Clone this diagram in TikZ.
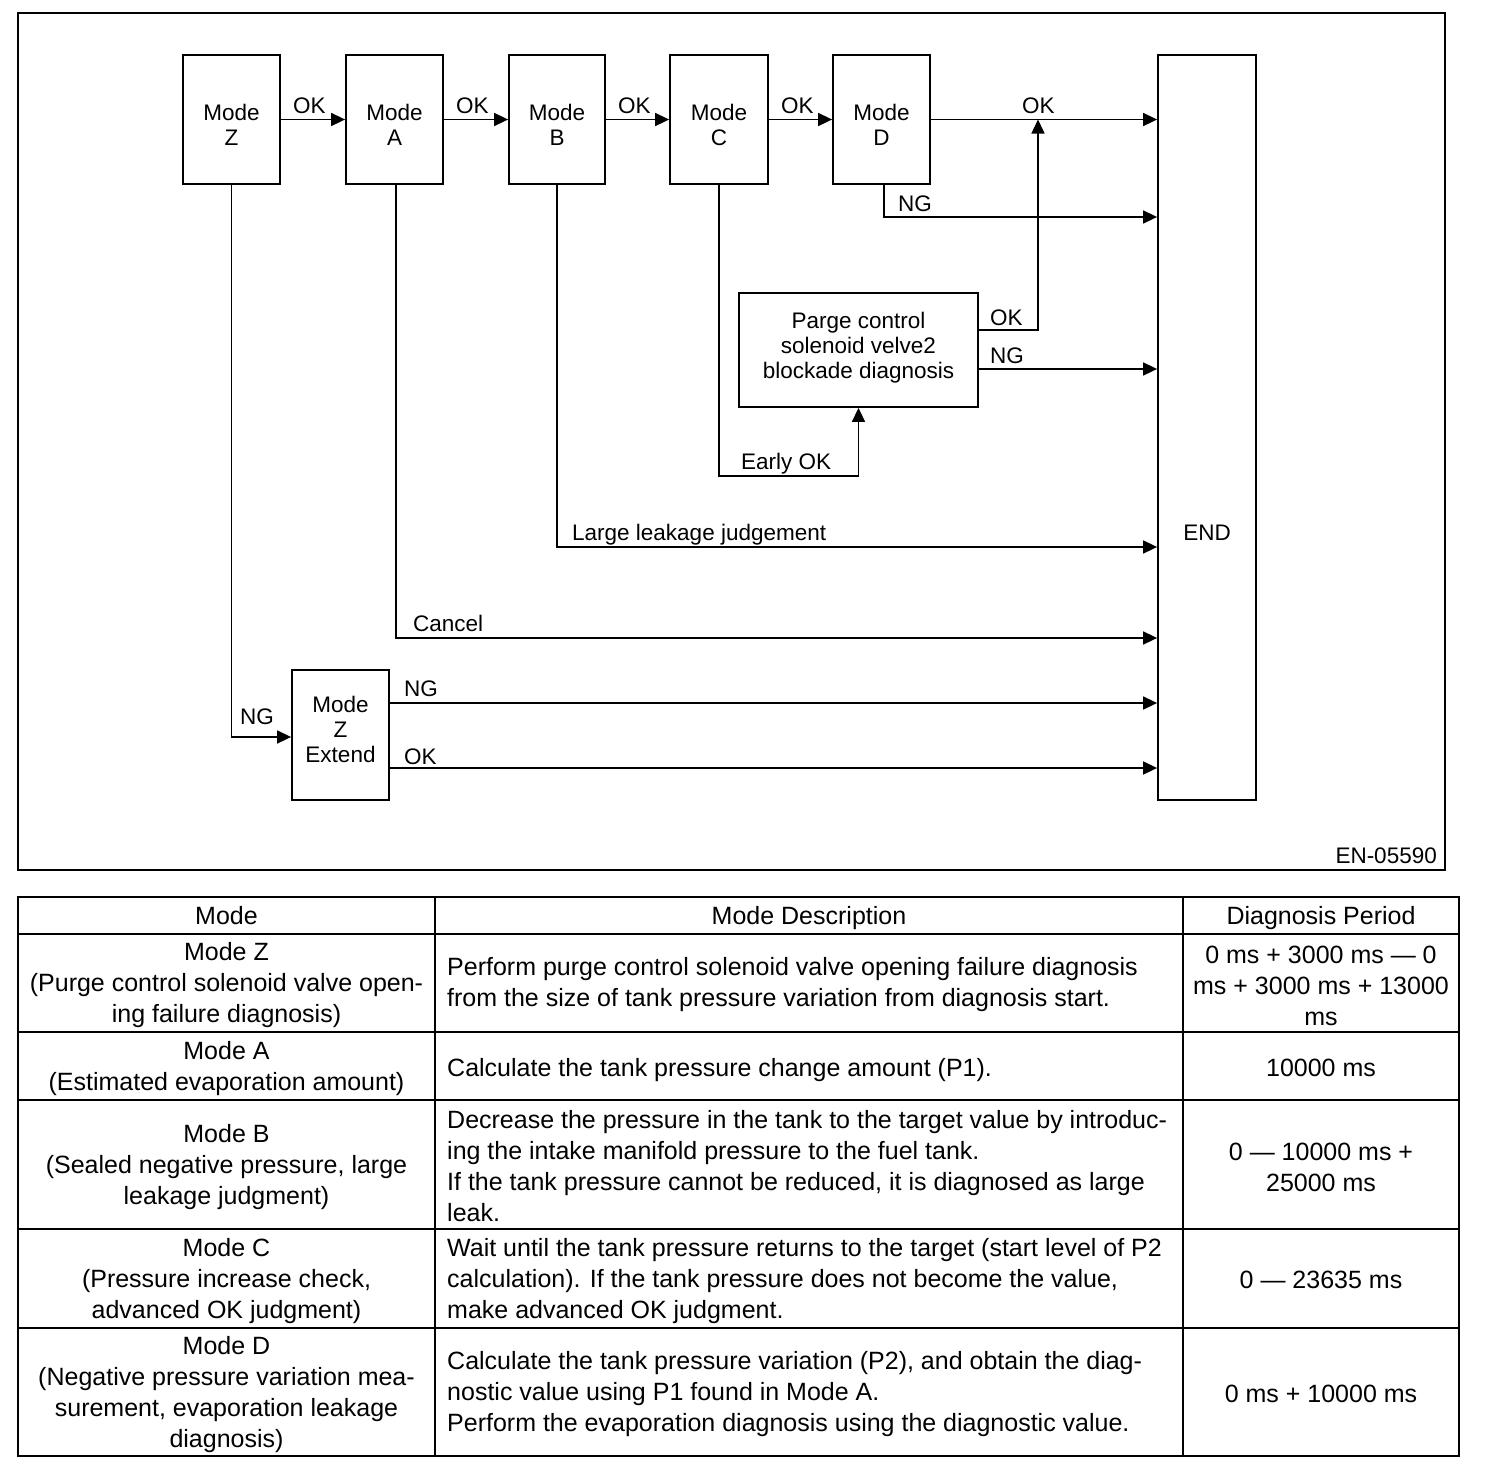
\documentclass[tikz,border=0pt]{standalone}
\usepackage{fontspec}
\setmainfont{Liberation Sans}
\usetikzlibrary{arrows.meta}
\begin{document}
\begin{tikzpicture}[x=1pt,y=-1pt,
  mbox/.style={draw,line width=1.8pt,inner sep=0pt,minimum width=97pt,minimum height=129pt},
  conn/.style={line width=1.6pt},
  arr/.style={conn,-{Triangle[length=14pt,width=13pt]}},
  btxt/.style={font=\fontsize{22.5}{25}\selectfont,align=center,inner sep=0pt},
  lbl/.style={font=\fontsize{22.5}{25}\selectfont,inner sep=0pt,anchor=base west},
  tline/.style={line width=2.6pt},
  ttxt/.style={font=\fontsize{25}{31}\selectfont,align=center,inner sep=0pt},
  dtxt/.style={font=\fontsize{25}{31}\selectfont,align=left,inner sep=0pt,anchor=west}]
\useasboundingbox (0,0) rectangle (1504,1470);
\fill[white] (0,0) rectangle (1504,1470);
% frame
\draw[line width=1.4pt] (18,13) rectangle (1445,870);
% boxes
\node[mbox] (Z) at (231.5,119.5) {};
\node[mbox] (A) at (394.5,119.5) {};
\node[mbox,minimum width=96pt] (B) at (557,119.5) {};
\node[mbox,minimum width=98pt] (C) at (719,119.5) {};
\node[mbox] (D) at (881.5,119.5) {};
\node[mbox,minimum width=98pt,minimum height=745pt] (END) at (1207,427.5) {};
\node[mbox,minimum height=130pt] (Ext) at (340.5,735) {};
\node[mbox,minimum width=239pt,minimum height=114pt] (P) at (858.5,350) {};
% box texts
\node[btxt] (Zt) at (231.5,125) {Mode\\Z};
\node[btxt] (At) at (394.5,125) {Mode\\A};
\node[btxt] (Bt) at (557,125) {Mode\\B};
\node[btxt] (Ct) at (719,125) {Mode\\C};
\node[btxt] (Dt) at (881.5,125) {Mode\\D};
\node[btxt] (Extt) at (340.5,729) {Mode\\Z\\Extend};
\node[btxt] (Pt) at (858.5,348) {Parge control\\solenoid velve2\\blockade diagnosis};
\node[lbl,anchor=base] (ENDt) at (1207,540) {END};
% connectors
\draw[arr] (Z.east) -- (A.west);
\draw[arr] (A.east) -- (B.west);
\draw[arr] (B.east) -- (C.west);
\draw[arr] (C.east) -- (D.west);
\draw[arr] (D.east) -- (D.east -| END.west);
\coordinate (pok) at (1038,330);
\draw[arr] (P.east |- pok) -- (pok) -- (pok |- D.east);
\draw[arr] ([xshift=2.5pt]D.south) |- (END.west |- 0,217);
\draw[arr] (P.east |- 0,369) -- (END.west |- 0,369);
\draw[arr] (C.south) |- (P.south |- 0,476) -- (P.south);
\draw[arr] (B.south) |- (END.west |- 0,547);
\draw[arr] ([xshift=1.5pt]A.south) |- (END.west |- 0,638);
\draw[arr] (Z.south) |- (Ext.west |- 0,737);
\draw[arr] (Ext.east |- 0,703) -- (END.west |- 0,703);
\draw[arr] (Ext.east |- 0,768) -- (END.west |- 0,768);
% labels
\node[lbl] (l1) at (293,113) {OK};
\node[lbl] (l2) at (456,113) {OK};
\node[lbl] (l3) at (618,113) {OK};
\node[lbl] (l4) at (781,113) {OK};
\node[lbl] (l5) at (1022,113) {OK};
\node[lbl] (l6) at (898,211) {NG};
\node[lbl] (l7) at (990,325) {OK};
\node[lbl] (l8) at (990,363) {NG};
\node[lbl] (l9) at (741,469) {Early OK};
\node[lbl] (l10) at (572,540) {Large leakage judgement};
\node[lbl] (l11) at (413,631) {Cancel};
\node[lbl] (l12) at (240,724) {NG};
\node[lbl] (l13) at (404,696) {NG};
\node[lbl] (l14) at (404,764) {OK};
\node[lbl,anchor=base east] (en) at (1437,863) {EN-05590};
% table
\draw[tline] (18,897) rectangle (1459,1456);
\foreach \yy in {934,1032,1100,1229,1328} \draw[tline] (18,\yy) -- (1459,\yy);
\draw[tline] (435,897) -- (435,1456);
\draw[tline] (1183,897) -- (1183,1456);
\node[ttxt,anchor=base] (h1) at (226.5,924) {Mode};
\node[ttxt,anchor=base] (h2) at (809,924) {Mode Description};
\node[ttxt,anchor=base] (h3) at (1321,924) {Diagnosis Period};
% row Z
\node[ttxt] (zm) at (226.5,985.5) {Mode Z\\(Purge control solenoid valve open-\\ing failure diagnosis)};
\node[dtxt] (zd) at (447,985) {Perform purge control solenoid valve opening failure diagnosis\\from the size of tank pressure variation from diagnosis start.};
\node[ttxt] (zp) at (1321,985.5) {0 ms + 3000 ms — 0\\ms + 3000 ms + 13000\\ms};
% row A
\node[ttxt] (am) at (226.5,1068.5) {Mode A\\(Estimated evaporation amount)};
\node[dtxt,anchor=base west] (ad) at (447,1076) {Calculate the tank pressure change amount (P1).};
\node[ttxt,anchor=base] (ap) at (1321,1076) {10000 ms};
% row B
\node[ttxt] (bm) at (226.5,1167) {Mode B\\(Sealed negative pressure, large\\leakage judgment)};
\node[dtxt] (bd) at (447,1166.5) {Decrease the pressure in the tank to the target value by introduc-\\ing the intake manifold pressure to the fuel tank.\\If the tank pressure cannot be reduced, it is diagnosed as large\\leak.};
\node[ttxt] (bp) at (1321,1167) {0 — 10000 ms +\\25000 ms};
% row C
\node[ttxt] (cm) at (226.5,1281) {Mode C\\(Pressure increase check,\\advanced OK judgment)};
\node[dtxt] (cd) at (447,1281) {Wait until the tank pressure returns to the target (start level of P2\\calculation). If the tank pressure does not become the value,\\make advanced OK judgment.};
\node[ttxt,anchor=base] (cp) at (1321,1288) {0 — 23635 ms};
% row D
\node[ttxt] (dm) at (226.5,1394.5) {Mode D\\(Negative pressure variation mea-\\surement, evaporation leakage\\diagnosis)};
\node[dtxt] (dd) at (447,1394.5) {Calculate the tank pressure variation (P2), and obtain the diag-\\nostic value using P1 found in Mode A.\\Perform the evaporation diagnosis using the diagnostic value.};
\node[ttxt,anchor=base] (dp) at (1321,1402) {0 ms + 10000 ms};
\end{tikzpicture}
\end{document}
